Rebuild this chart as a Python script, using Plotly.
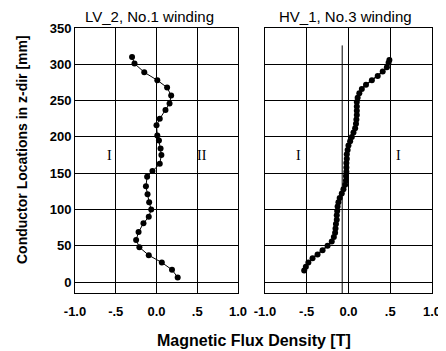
import plotly.graph_objects as go
from plotly.subplots import make_subplots

# Left panel: LV_2, No.1 winding
lv_z = [6.5, 17, 27, 37, 48, 58, 69, 81, 90, 100, 110, 121, 132, 145, 153, 163, 175, 184, 195, 202, 216, 225, 237, 246, 257, 268, 278, 289, 301, 310]
lv_b = [0.26, 0.19, 0.065, -0.095, -0.21, -0.25, -0.22, -0.16, -0.095, -0.065, -0.09, -0.11, -0.13, -0.115, -0.05, 0.04, 0.06, 0.05, 0.03, 0.01, 0.00, 0.04, 0.11, 0.16, 0.18, 0.13, 0.01, -0.15, -0.27, -0.30]

# Right panel: HV_1, No.3 winding
hv_z = [16, 21, 27, 33, 38, 44, 50, 56, 62, 68, 74, 80, 86, 92, 98, 104, 110, 116, 122, 128,
        134, 140, 146, 152, 158, 164, 170, 176, 182, 188, 194, 200, 206, 212, 218, 224, 230, 236,
        242, 248, 254, 260, 266, 272, 278, 284, 290, 296, 302, 306]
hv_b = [-0.53, -0.51, -0.48, -0.43, -0.37, -0.31, -0.25, -0.20, -0.175, -0.16, -0.155, -0.15, -0.14,
        -0.14, -0.135, -0.13, -0.12, -0.105, -0.08, -0.06, -0.04, -0.03, -0.03, -0.025, -0.025,
        -0.025, -0.02, -0.02, -0.01, 0.0, 0.02, 0.04, 0.06, 0.08, 0.09, 0.095, 0.10, 0.10, 0.10,
        0.10, 0.11, 0.13, 0.16, 0.21, 0.28, 0.35, 0.41, 0.46, 0.48, 0.49]

x_tickvals = [-1.0, -0.5, 0.0, 0.5, 1.0]
x_ticktext = ["-1.0", "-.5", "0.0", ".5", "1.0"]
y_tickvals = [0, 50, 100, 150, 200, 250, 300, 350]
titles = ["LV_2, No.1 winding", "HV_1, No.3 winding"]
x_title = "Magnetic Flux Density [T]"
y_title = "Conductor Locations in z-dir [mm]"

fig = make_subplots(rows=1, cols=2, shared_yaxes=False)
fig.add_trace(go.Scatter(x=lv_b, y=lv_z, mode="lines+markers",
                         line=dict(color="black", width=1),
                         marker=dict(color="black", size=6)), row=1, col=1)
fig.add_trace(go.Scatter(x=hv_b, y=hv_z, mode="lines+markers",
                         line=dict(color="black", width=1.5),
                         marker=dict(color="black", size=6)), row=1, col=2)

SANS = "Liberation Sans, Arial, sans-serif"
tickfont = dict(family=SANS, size=13, color="black", weight="bold")
common_x = dict(range=[-1.0, 1.0], tickvals=x_tickvals, ticktext=x_ticktext,
                showgrid=True, gridcolor="black", gridwidth=1, zeroline=False,
                showline=True, linecolor="black", linewidth=1, mirror=True,
                ticks="", tickfont=tickfont, automargin=False,
                ticklabeloverflow="allow", ticklabelstandoff=6)
common_y = dict(range=[-15, 350], tickvals=y_tickvals,
                showgrid=True, gridcolor="black", gridwidth=1, zeroline=False,
                showline=True, linecolor="black", linewidth=1, mirror=True,
                ticks="", tickfont=tickfont, automargin=False)

fig.update_xaxes(**common_x)
fig.update_yaxes(**common_y)
fig.update_xaxes(domain=[0, 0.4566], row=1, col=1)
fig.update_xaxes(domain=[0.532, 1.0], row=1, col=2)
fig.update_yaxes(domain=[0, 1], row=1, col=1)
fig.update_yaxes(domain=[0, 1], showticklabels=False, row=1, col=2)

# vertical reference line in right panel
fig.add_shape(type="line", xref="x2", yref="y2", x0=-0.075, x1=-0.075, y0=-15, y1=326,
              line=dict(color="black", width=1))

# region labels
serif = dict(family="Liberation Serif, Times New Roman, serif", size=14, color="black")
for xr, yr, xv, txt in [("x", "y", -0.58, "I"), ("x", "y", 0.56, "II"),
                        ("x2", "y2", -0.6, "I"), ("x2", "y2", 0.6, "I")]:
    fig.add_annotation(x=xv, y=175, xref=xr, yref=yr, text=txt, showarrow=False, font=serif)

# subplot titles
title_font = dict(family=SANS, size=15, color="black")
fig.add_annotation(x=-0.08, y=350, xref="x", yref="y", text=titles[0], showarrow=False,
                   yshift=12, font=title_font, xanchor="center", yanchor="middle")
fig.add_annotation(x=-0.04, y=350, xref="x2", yref="y2", text=titles[1], showarrow=False,
                   yshift=12, font=title_font, xanchor="center", yanchor="middle")

# axis titles
fig.add_annotation(x=(253.5 - 75) / 357, y=(293 - 340) / 265, xref="paper", yref="paper",
                   text=x_title, showarrow=False, xanchor="center", yanchor="middle",
                   font=dict(family=SANS, size=16, color="black", weight="bold"))
fig.add_annotation(x=(22 - 75) / 357, y=(293 - 150) / 265, xref="paper", yref="paper",
                   text=y_title, textangle=-90, showarrow=False,
                   xanchor="center", yanchor="middle",
                   font=dict(family=SANS, size=14, color="black", weight="bold"))

# page body has an 8px default margin, so the figure is 8px smaller and margins shifted
fig.update_layout(
    width=438, height=343,
    margin=dict(l=67, r=14, t=20, b=58),
    paper_bgcolor="white", plot_bgcolor="white",
    showlegend=False, font=dict(family=SANS, size=13, color="black"),
)

fig.write_html("out.html")
